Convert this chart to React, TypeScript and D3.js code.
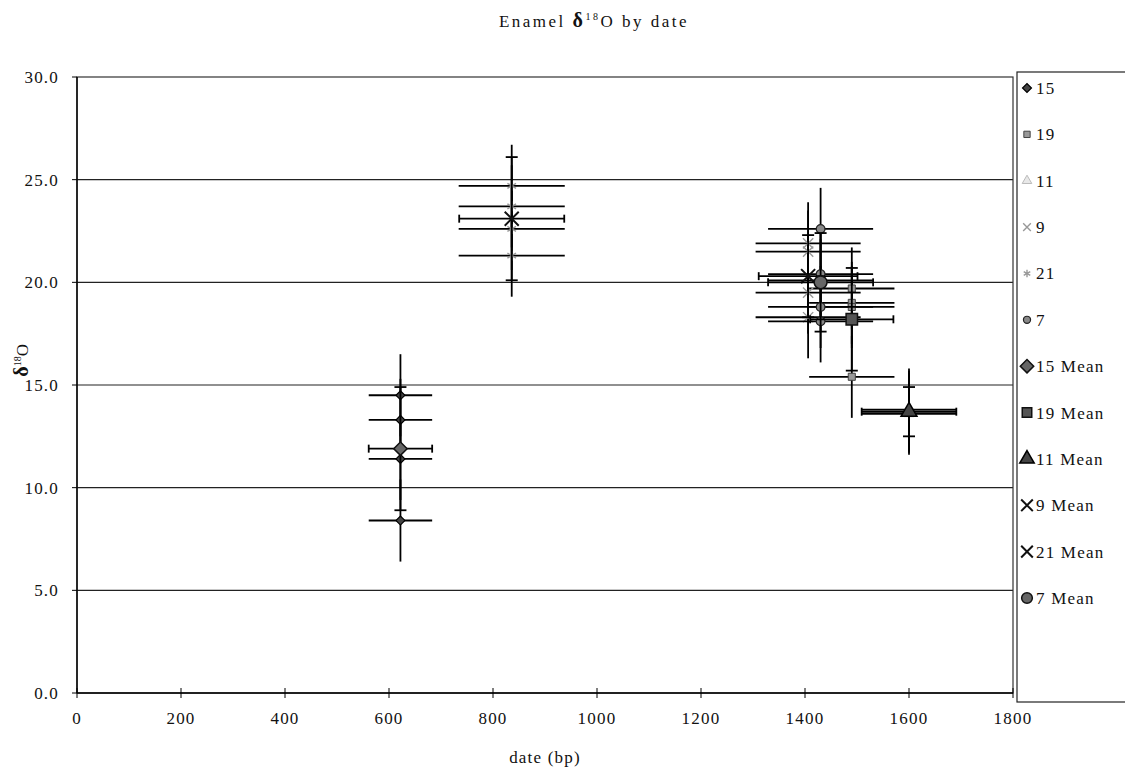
import React from 'react'
import * as d3 from 'd3'

// series (sample groups) and their dates
const seriesIds = ['15', '19', '11', '9', '21', '7']
const seriesDates = [622, 1490, 1600, 1406, 836, 1430]
const seriesShapes = ['diamond', 'square', 'triangle', 'times', 'asterisk', 'circle']

// individual enamel values per series
const pointValues = [
  [14.5, 13.3, 11.4, 8.4],
  [19.7, 19.0, 18.8, 15.4],
  [13.6, 13.7, 13.8],
  [21.9, 21.5, 19.5, 18.3],
  [24.7, 23.7, 22.6, 21.3],
  [22.6, 20.4, 20.1, 18.8, 18.1],
]
const pointDateErrors = [61, 82, 91, 101, 102, 101]
const pointValueError = 2

// means
const meanValues = [11.9, 18.2, 13.7, 20.3, 23.1, 20.0]
const meanDateErrors = [61, 80, 91, 95, 101, 101]
const meanValueErrors = [3.0, 2.5, 1.2, 2.0, 3.0, 2.4]

const yTicks = [0, 5, 10, 15, 20, 25, 30]
const xTicks = [0, 200, 400, 600, 800, 1000, 1200, 1400, 1600, 1800]

const FONT = '"Liberation Serif", "DejaVu Serif", serif'

const symbolTypes: Record<string, any> = {
  diamond: d3.symbolSquare, // rotated 45deg below
  square: d3.symbolSquare,
  triangle: d3.symbolTriangle,
  times: d3.symbolTimes,
  asterisk: d3.symbolAsterisk,
  circle: d3.symbolCircle,
}

const pointStyle: Record<string, any> = {
  diamond: { size: 40, fill: '#444', stroke: '#000', sw: 1.2 },
  square: { size: 50, fill: '#999', stroke: '#444', sw: 1 },
  triangle: { size: 45, fill: '#e8e8e8', stroke: '#bbb', sw: 1 },
  times: { size: 70, fill: 'none', stroke: '#999', sw: 1.4 },
  asterisk: { size: 70, fill: 'none', stroke: '#999', sw: 1.4 },
  circle: { size: 60, fill: '#888', stroke: '#222', sw: 1.2 },
}

const meanStyle: Record<string, any> = {
  diamond: { size: 90, fill: '#666', stroke: '#111', sw: 1.5 },
  square: { size: 130, fill: '#555', stroke: '#111', sw: 1.5 },
  triangle: { size: 110, fill: '#444', stroke: '#000', sw: 1.5 },
  times: { size: 130, fill: 'none', stroke: '#111', sw: 2 },
  asterisk: { size: 130, fill: 'none', stroke: '#111', sw: 2 },
  circle: { size: 130, fill: '#666', stroke: '#111', sw: 1.5 },
}

const Marker = ({ shape, cx, cy, st }: any) => {
  const path = d3.symbol().type(symbolTypes[shape]).size(st.size)()
  const rot = shape === 'diamond' ? ' rotate(45)' : ''
  return (
    <path d={path || ''} transform={`translate(${cx},${cy})${rot}`} fill={st.fill}
      stroke={st.stroke} strokeWidth={st.sw} />
  )
}

const App = () => {
  const width = 1125
  const height = 772
  const left = 77, right = 1013, top = 77, bottom = 693
  const x = d3.scaleLinear().domain([0, 1800]).range([left, right])
  const y = d3.scaleLinear().domain([0, 30]).range([bottom, top])
  const cap = 4

  const errH = (d: number, v: number, e: number, caps: boolean, key: string) => (
    <g key={key}>
      <line x1={x(d - e)} x2={x(d + e)} y1={y(v)} y2={y(v)} stroke="#000" strokeWidth={1.8} />
      {caps && <line x1={x(d - e)} x2={x(d - e)} y1={y(v) - cap} y2={y(v) + cap} stroke="#000" strokeWidth={1.8} />}
      {caps && <line x1={x(d + e)} x2={x(d + e)} y1={y(v) - cap} y2={y(v) + cap} stroke="#000" strokeWidth={1.8} />}
    </g>
  )
  const errV = (d: number, v: number, e: number, caps: boolean, key: string) => (
    <g key={key}>
      <line x1={x(d)} x2={x(d)} y1={y(v - e)} y2={y(v + e)} stroke="#000" strokeWidth={1.8} />
      {caps && <line x1={x(d) - cap - 2} x2={x(d) + cap + 2} y1={y(v - e)} y2={y(v - e)} stroke="#000" strokeWidth={1.8} />}
      {caps && <line x1={x(d) - cap - 2} x2={x(d) + cap + 2} y1={y(v + e)} y2={y(v + e)} stroke="#000" strokeWidth={1.8} />}
    </g>
  )

  const legendItems = [
    ...seriesIds.map((id, i) => ({ label: id, shape: seriesShapes[i], st: pointStyle[seriesShapes[i]] })),
    ...seriesIds.map((id, i) => ({ label: `${id} Mean`, shape: seriesShapes[i] === 'asterisk' ? 'times' : seriesShapes[i], st: meanStyle[seriesShapes[i]] })),
  ]
  const legendY = d3.scalePoint().domain(legendItems.map(d => d.label)).range([88, 598])
  const txt = { fontSize: 17, fill: '#111', letterSpacing: 1.2 }

  return (
    <svg width={width} height={height} style={{ position: 'absolute', left: 0, top: 0, background: '#fff' }}
      fontFamily={FONT}>
      {/* title */}
      <text x={594} y={27} textAnchor="middle" fontSize={17} fill="#111" letterSpacing={2.5}>
        Enamel <tspan fontWeight="bold" fontSize={20}>δ</tspan><tspan dy={-7} fontSize={10}>18</tspan><tspan dy={7}>O by date</tspan>
      </text>

      {/* gridlines */}
      {yTicks.filter(t => t > 0 && t < 30).map(t => (
        <line key={`g${t}`} x1={left} x2={right} y1={y(t)} y2={y(t)} stroke="#222" strokeWidth={1.2} />
      ))}
      {/* plot frame */}
      <rect x={left} y={top} width={right - left} height={bottom - top} fill="none" stroke="#333" strokeWidth={1.2} />
      <line x1={left} x2={left} y1={top} y2={bottom} stroke="#000" strokeWidth={1.4} />
      <line x1={left} x2={right} y1={bottom} y2={bottom} stroke="#000" strokeWidth={1.4} />

      {/* y ticks */}
      {yTicks.map(t => (
        <g key={`y${t}`}>
          <line x1={left - 5} x2={left} y1={y(t)} y2={y(t)} stroke="#000" />
          <text x={59} y={y(t) + 6} textAnchor="end" {...txt}>{d3.format('.1f')(t)}</text>
        </g>
      ))}
      {/* x ticks */}
      {xTicks.map(t => (
        <g key={`x${t}`}>
          <line x1={x(t)} x2={x(t)} y1={bottom - 5} y2={bottom + 5} stroke="#000" />
          <text x={x(t)} y={724} textAnchor="middle" {...txt}>{t}</text>
        </g>
      ))}

      {/* axis titles */}
      <text x={545} y={763} textAnchor="middle" {...txt}>date (bp)</text>
      <text transform={`translate(28, ${y(16.2)}) rotate(-90)`} textAnchor="middle" fontSize={17} fill="#111">
        <tspan fontWeight="bold" fontSize={20}>δ</tspan><tspan dy={-7} fontSize={10}>18</tspan><tspan dy={7}>O</tspan>
      </text>

      {/* individual points with error bars */}
      {seriesIds.map((id, i) => (
        <g key={`s${id}`}>
          {pointValues[i].map((v, j) => (
            <g key={j}>
              {errV(seriesDates[i], v, pointValueError, false, `v${j}`)}
              {errH(seriesDates[i], v, pointDateErrors[i], false, `h${j}`)}
            </g>
          ))}
          {pointValues[i].map((v, j) => (
            <Marker key={`m${j}`} shape={seriesShapes[i]} cx={x(seriesDates[i])} cy={y(v)} st={pointStyle[seriesShapes[i]]} />
          ))}
        </g>
      ))}

      {/* means */}
      {seriesIds.map((id, i) => (
        <g key={`mean${id}`}>
          {errV(seriesDates[i], meanValues[i], meanValueErrors[i], true, 'mv')}
          {errH(seriesDates[i], meanValues[i], meanDateErrors[i], true, 'mh')}
          <Marker shape={seriesShapes[i] === 'asterisk' ? 'times' : seriesShapes[i]} cx={x(seriesDates[i])}
            cy={y(meanValues[i])} st={meanStyle[seriesShapes[i]]} />
        </g>
      ))}

      {/* legend */}
      <rect x={1017} y={72} width={120} height={630} fill="#fff" stroke="#222" strokeWidth={1.2} />
      {legendItems.map(d => (
        <g key={`l${d.label}`}>
          <Marker shape={d.shape} cx={1027} cy={legendY(d.label)!} st={{ ...d.st, size: d.label.includes('Mean') ? 90 : 40 }} />
          <text x={1036} y={(legendY(d.label) || 0) + 6} {...txt}>{d.label}</text>
        </g>
      ))}
    </svg>
  )
}

export default App
